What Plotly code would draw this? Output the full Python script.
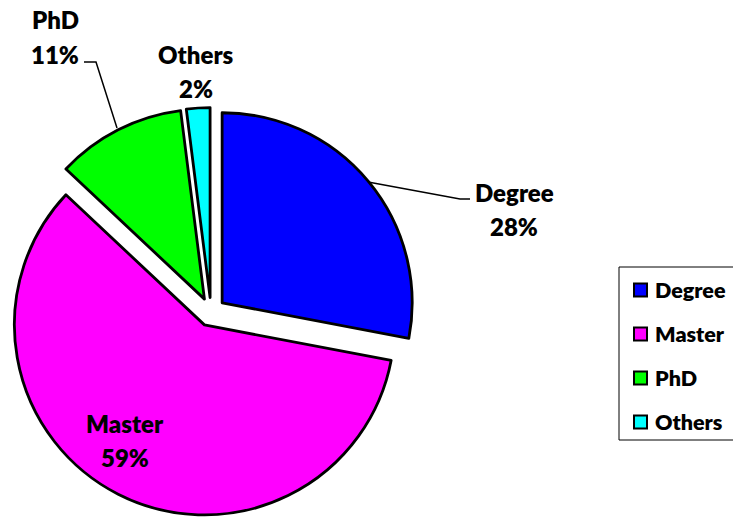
import plotly.graph_objects as go

# Share of respondents by highest qualification
categories = ["Degree", "Master", "PhD", "Others"]
shares = [28, 59, 11, 2]
colors = ["#0000FF", "#FF00FF", "#00FF00", "#00FFFF"]

W, H = 733, 517


def px(x):
    return x / W


def py(y):
    return 1 - y / H


FONT = dict(family="Lato, Carlito, Arial", size=24, color="black", weight=800)

fig = go.Figure()
fig.add_trace(go.Pie(
    labels=categories,
    values=shares,
    sort=False,
    direction="clockwise",
    rotation=0,
    pull=[0.076] * len(categories),
    marker=dict(colors=colors, line=dict(color="black", width=2.8)),
    textinfo="none",
    hoverinfo="label+percent",
    domain=dict(x=[px(6.5), px(415.5)], y=[py(516.5), py(107.5)]),
    showlegend=False,
))

# Slice labels: category name with the percentage on the line below
label_pos = {
    "Degree": (514, 209),
    "Master": (125, 440),
    "PhD": (55, 37),
    "Others": (196, 71),
}
LINE_GAP = 17
total = sum(shares)
annotations = []
for cat, val in zip(categories, shares):
    x, y = label_pos[cat]
    for text, yy in ((cat, y - LINE_GAP), (f"{round(100 * val / total)}%", y + LINE_GAP)):
        annotations.append(dict(
            x=px(x), y=py(yy), xref="paper", yref="paper", text=text,
            showarrow=False, xanchor="center", yanchor="middle",
            font=FONT, align="center",
        ))

shapes = []
# Leader lines for the outer labels
leaders = [
    [(368, 182), (460, 199), (470, 199)],
    [(117, 128), (96, 62), (84, 62)],
]
for pts in leaders:
    path = "M " + " L ".join(f"{px(x)},{py(y)}" for x, y in pts)
    shapes.append(dict(type="path", path=path, xref="paper", yref="paper",
                       line=dict(color="black", width=1.5)))

# Legend box with colour keys
shapes.append(dict(type="rect", xref="paper", yref="paper",
                   x0=px(619), x1=px(760), y0=py(440), y1=py(267),
                   line=dict(color="black", width=1), fillcolor="rgba(0,0,0,0)"))
legend_y = [290, 334, 378, 422]
for cat, col, yy in zip(categories, colors, legend_y):
    shapes.append(dict(type="rect", xref="paper", yref="paper",
                       x0=px(634), x1=px(647), y0=py(yy + 6.5), y1=py(yy - 6.5),
                       line=dict(color="black", width=2), fillcolor=col))
    annotations.append(dict(
        x=px(653), y=py(yy), xref="paper", yref="paper", text=cat,
        showarrow=False, xanchor="left", yanchor="middle",
        font=dict(family="Lato, Carlito, Arial", size=21.5, color="black", weight=800),
    ))

fig.update_layout(
    width=W, height=H,
    margin=dict(l=0, r=0, t=0, b=0),
    paper_bgcolor="white",
    plot_bgcolor="white",
    annotations=annotations,
    shapes=shapes,
    showlegend=False,
)

fig.write_html("out.html")
